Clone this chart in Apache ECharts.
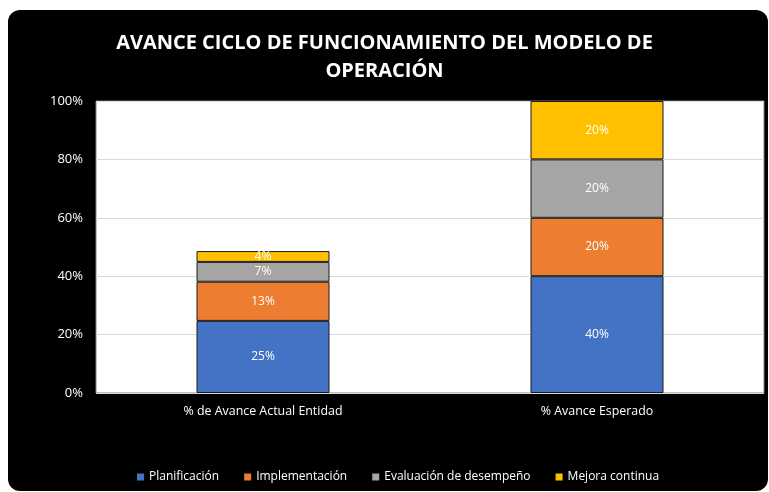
<!DOCTYPE html>
<html><head><meta charset="utf-8">
<script src="https://cdn.jsdelivr.net/npm/echarts@6/dist/echarts.min.js"></script>
<style>html,body{margin:0;padding:0;background:#fff}#c{width:769px;height:492px}</style>
</head><body><div id="c"></div>
<script>
const categories = ['% de Avance Actual Entidad', '% Avance Esperado'];
const planificacion = [24.7, 40];
const implementacion = [13.4, 20];
const evaluacion = [6.8, 20];
const mejora = [3.7, 20];
const seriesNames = ['Planificación', 'Implementación', 'Evaluación de desempeño', 'Mejora continua'];
const colors = ['#4472C4', '#ED7D31', '#A5A5A5', '#FFC000'];
const yTicks = [0, 20, 40, 60, 80, 100];

const font = "'Open Sans', sans-serif";
const chart = echarts.init(document.getElementById('c'));
const dataSets = [planificacion, implementacion, evaluacion, mejora];
chart.setOption({
  backgroundColor: '#fff',
  animation: false,
  graphic: [{type:'rect', z:-10, silent:true, shape:{x:8,y:10,width:760,height:481,r:12}, style:{fill:'#000'}}],
  title: {
    text: 'AVANCE CICLO DE FUNCIONAMIENTO DEL MODELO DE\nOPERACIÓN',
    left: 'center', top: 24,
    textStyle: {color:'#fff', fontSize: 20, fontWeight:'bold', fontFamily: font, lineHeight: 28}
  },
  legend: {
    bottom: 4, left: 132, itemWidth: 7, itemHeight: 7, itemGap: 25,
    icon: 'rect',
    itemStyle: {borderWidth: 0},
    textStyle: {color:'#fff', fontSize: 12, fontFamily: font},
    data: seriesNames
  },
  grid: {left: 96, right: 5, top: 101, bottom: 99, show: true, backgroundColor:'#fff', borderColor:'#808080', borderWidth:1},
  xAxis: {
    type:'category', data: categories,
    axisLine:{show:false}, axisTick:{show:false},
    axisLabel:{color:'#fff', fontSize:12.4, fontFamily: font, margin: 12}
  },
  yAxis: {
    type:'value', min:0, max:100, interval:20,
    axisLine:{show:false}, axisTick:{show:false},
    axisLabel:{color:'#fff', fontSize:13, fontFamily: font, margin: 13, formatter: v => v + '%'},
    splitLine:{lineStyle:{color:'#d9d9d9', width:1}}
  },
  series: dataSets.map((d, i) => ({
    name: seriesNames[i], type:'bar', stack:'total', data: d, barWidth: 133,
    itemStyle:{color: colors[i], borderColor:'#1a1a1a', borderWidth:1},
    label:{show:true, position:'inside', color:'#fff', fontSize:12, fontFamily: font, formatter: p => Math.round(p.value) + '%'}
  }))
});
</script></body></html>
